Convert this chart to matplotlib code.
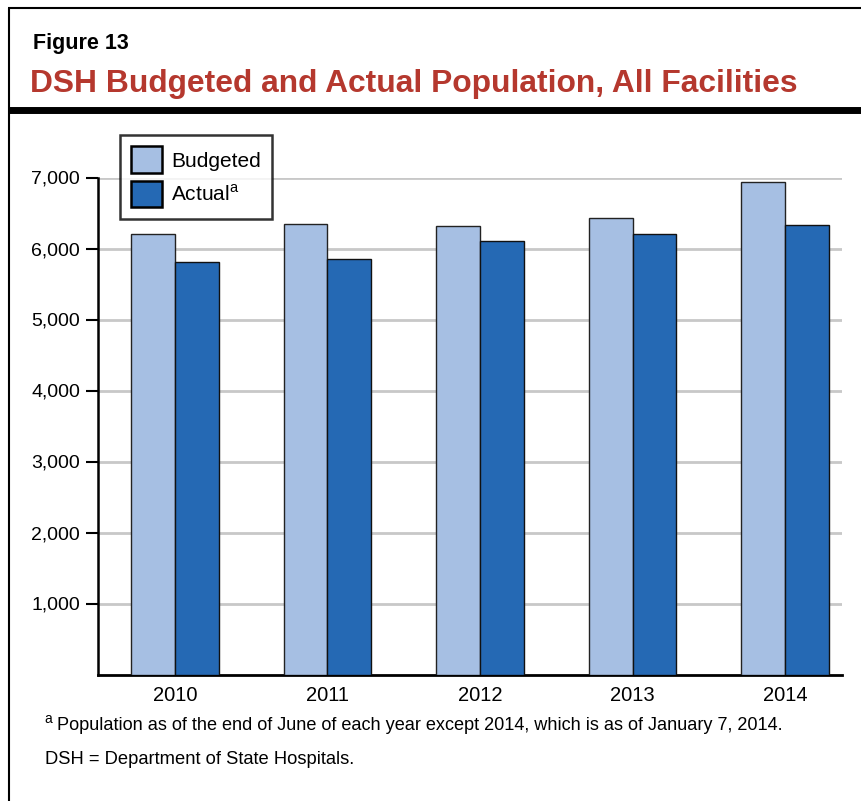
import matplotlib.pyplot as plt
import matplotlib.lines as mlines
import numpy as np

plt.rcParams['font.family'] = ['Liberation Sans', 'DejaVu Sans']
plt.rcParams['mathtext.fontset'] = 'custom'
plt.rcParams['mathtext.rm'] = 'Liberation Sans'

# data
years = ['2010', '2011', '2012', '2013', '2014']
budgeted = [6200, 6350, 6320, 6430, 6940]
actual = [5815, 5850, 6105, 6205, 6335]
yticks = [1000, 2000, 3000, 4000, 5000, 6000, 7000]

light_blue = '#A6BFE3'
dark_blue = '#2569B4'
title_red = '#B5382E'

fig = plt.figure(figsize=(8.61, 8.01), dpi=100)

# frame lines around the figure
fig.add_artist(mlines.Line2D([9/861, 9/861], [0, 1 - 8/801], color='black', lw=1.5, solid_capstyle='butt'))
fig.add_artist(mlines.Line2D([8/861, 1], [1 - 8/801, 1 - 8/801], color='black', lw=1.5, solid_capstyle='butt'))
fig.add_artist(mlines.Line2D([8/861, 1], [1 - 110/801, 1 - 110/801], color='black', lw=5, solid_capstyle='butt'))

fig.text(33/861, 1 - 43/801, 'Figure 13', fontsize=15.5, fontweight='bold', va='center')
fig.text(30/861, 1 - 84/801, 'DSH Budgeted and Actual Population, All Facilities',
         fontsize=22.9, fontweight='bold', color=title_red, va='center')

ax = fig.add_axes([98/861, 1 - 674.5/801, (842 - 98)/861, (674.5 - 177.5)/801])
x = np.arange(len(years))
w = 0.288
ax.bar(x - w/2, budgeted, w, color=light_blue, edgecolor='#222222', lw=1, label='Budgeted', zorder=3)
ax.bar(x + w/2, actual, w, color=dark_blue, edgecolor='#111111', lw=1, label='Actual$^{\\mathrm{a}}$', zorder=3)

ax.set_xlim(-0.504, 4.373)
ax.set_ylim(0, 7000)
ax.set_yticks(yticks)
ax.set_yticklabels([f'{v:,}' for v in yticks])
ax.set_xticks(x)
ax.set_xticklabels(years)
for v in yticks:
    ax.axhline(v, color='#C8C8C8', lw=2, zorder=1)

for s in ['top', 'right']:
    ax.spines[s].set_visible(False)
ax.spines['left'].set_linewidth(1.8)
ax.spines['bottom'].set_linewidth(2)
ax.tick_params(axis='y', length=9, width=1.5, labelsize=14, pad=4)
ax.tick_params(axis='x', length=0, labelsize=14.5, pad=8)

leg = ax.legend(loc='upper left', bbox_to_anchor=(120/861, 1 - 135/801), bbox_transform=fig.transFigure,
                frameon=True, fancybox=False, fontsize=15, handlelength=1.45, handleheight=1.6,
                borderpad=0.55, labelspacing=0.35, handletextpad=0.45, borderaxespad=0)
leg.get_frame().set_edgecolor('black')
leg.get_frame().set_linewidth(1.8)
for p in leg.get_patches():
    p.set_edgecolor('black')
    p.set_linewidth(1.8)

fig.text(44/861, 1 - 719/801, 'a', fontsize=10, va='center')
fig.text(57/861, 1 - 726/801, 'Population as of the end of June of each year except 2014, which is as of January 7, 2014.',
         fontsize=13.1, va='center')
fig.text(45/861, 1 - 760/801, 'DSH = Department of State Hospitals.', fontsize=13.2, va='center')

fig.savefig('out.png', dpi=100)
